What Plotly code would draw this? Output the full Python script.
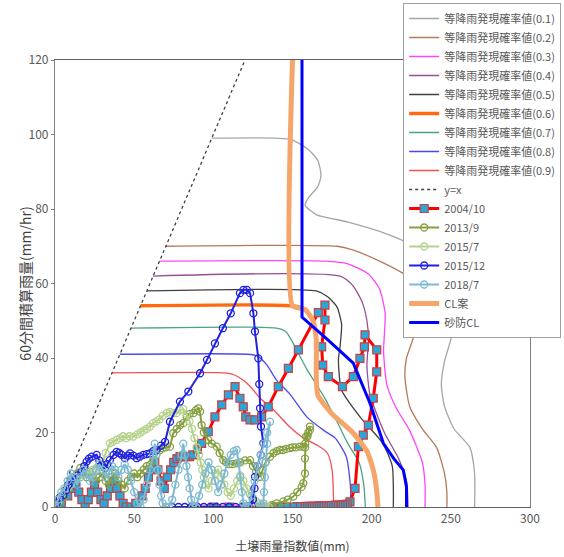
import plotly.graph_objects as go

# ---------------- data ----------------
# equal-probability contours (x: soil water index, y: 60-min rainfall)
c01_x = [99, 140, 150, 160, 166, 168, 166, 160, 158, 165, 185, 205, 222, 236, 248, 253, 250, 246, 244, 246, 252, 262, 265, 265]
c01_y = [99, 99, 98.5, 96, 93, 89, 86, 83, 81, 78.5, 76.5, 74, 71, 66, 58, 51, 45, 39, 33, 27, 21, 16, 9, 0]
c02_x = [70, 178, 188, 205, 222, 227, 228.5, 226, 222, 221, 224, 232, 241, 246, 247.5, 247.5]
c02_y = [70, 70, 69, 66, 62, 57, 51, 45, 40, 35, 27, 21, 16, 9, 4, 0]
c03_x = [66, 170, 185, 198, 205, 208.5, 208, 207.5, 209.5, 215, 224, 232, 233.7, 233.7]
c03_y = [66, 66, 65.3, 62.5, 58.5, 52, 46, 42, 33, 27, 20.5, 12, 6, 0]
c04_x = [62, 180, 188, 194, 197, 198, 197, 199, 208, 217, 222, 223]
c04_y = [62, 62, 59.5, 55, 50, 45, 38, 30, 20, 13, 7, 0]
c05_x = [58, 165, 172, 178, 181, 180, 179, 181, 192.6, 207, 213, 213.7, 213.7]
c05_y = [58, 58, 56.5, 53.8, 49, 43, 39.5, 31.4, 24.2, 17.1, 11, 5, 0]
c06_x = [54, 150, 158, 163, 165, 165, 166, 175, 188, 197, 201, 203, 204]
c06_y = [54, 54, 53, 50, 45, 35, 30, 25, 20, 15, 10, 5, 0]
c07_x = [48, 140, 146, 151, 159, 170, 178, 185, 192, 195, 196]
c07_y = [48, 48, 47, 43.5, 37, 29.5, 23, 17, 12, 6, 0]
c08_x = [41, 122, 128, 134, 140, 148, 159, 170, 177, 184, 186.5, 187]
c08_y = [41, 41, 40.5, 38, 34, 30.5, 24.2, 20.5, 18.5, 13.5, 6, 0]
c09_x = [36, 106, 113, 119, 124, 130, 136, 148, 157, 166, 172, 175, 176]
c09_y = [36, 36, 35.5, 34, 32, 29, 27, 21.6, 18.5, 16.5, 14.5, 10, 0]

yx_x = [0, 120]
yx_y = [0, 120]

# 2004/10 event
e2004_x = [0, 4, 8, 11, 13, 15, 17, 19, 21, 23, 25, 27, 29, 31, 33, 35, 37, 39, 41, 43, 45, 48, 51,
           55, 57, 59, 61, 63, 65, 67, 69, 71, 73, 75, 77, 79, 81, 83, 85, 87, 90, 92.6, 96.8, 101, 105.3,
           109.5, 113.7, 116.8, 118.9, 120.5, 123.2, 126.3, 130.5, 134.7, 141, 147.4, 153.7, 166.3, 170.5,
           170.5, 168.4, 169.1, 172.6, 181.5, 188.4, 192.6, 195.4, 195.8, 203.2, 203.2, 201, 197.9, 194.7,
           191.6, 189.5, 186.3, 184.5, 183, 181.5, 180, 178.5, 177, 175.5, 174, 172.5, 171, 169.5, 168, 166.5,
           165, 163.5, 162, 160.5, 159, 157.5, 156, 154.5, 153, 150, 146, 142, 138, 130, 120, 110, 100, 88]
e2004_y = [0, 1, 3, 5, 6, 4, 2, 0, 2, 4, 6, 4, 2, 1, 3, 5, 7, 5, 3, 1, 0, 0, 1,
           3, 5, 8, 10, 12, 10, 7, 5, 8, 10, 12, 13, 13.5, 13.5, 13.5, 13.5, 14, 15.5, 17.1, 20.2, 24.2, 27.4,
           30.1, 32.3, 29.2, 26.9, 24.2, 23.4, 23.4, 24.2, 26.9, 32.3, 37.2, 42.2, 52.2, 54.2,
           50.2, 43, 38.1, 35, 32.3, 35, 39.9, 43, 46.2, 42.2, 36.3, 29.2, 22, 19.3,
           16.2, 5, 1.4, 0.8, 0.6, 0.6, 0.5, 0.5, 0.5, 0.4, 0.4, 0.4, 0.3, 0.3, 0.3, 0.3,
           0.2, 0.2, 0.2, 0.2, 0.2, 0.1, 0.1, 0.1, 0.1, 0, 0, 0, 0, 0, 0, 0, 0, 0]

# 2013/9 event
e2013_x = [0, 2, 4, 6, 8, 10, 12, 14, 16, 18, 20, 22, 24, 26, 28, 30, 32, 34, 36, 38, 40, 42, 44, 46, 48,
           50, 52, 54, 56, 58, 60, 62, 64, 66.3, 68, 70, 72.6, 74.7, 77, 79, 81, 83.2, 85, 87.4, 89, 90.5,
           91.6, 92.6, 94, 96.8, 99, 102.1, 104, 106.3, 108, 110, 112, 114.7, 117, 120, 123.2, 125, 127,
           129.5, 131, 133, 135.8, 138, 140, 142.1, 144, 146, 148.4, 150, 152, 154.7, 156.8, 158, 159.5,
           161, 161, 160, 158.5, 158, 157.9, 157.9, 156.8, 155.8, 153, 150.5, 147, 144.2, 140, 137, 134]
e2013_y = [0, 1, 2, 3, 5, 7, 8, 9, 10.5, 9, 8, 9.5, 8, 7, 8, 9, 7, 6, 8, 9, 7, 6, 5, 7, 8,
           9, 8, 9, 10, 11, 11.3, 12.5, 14, 15.3, 15.8, 16, 16.2, 19.8, 21, 22, 22.5, 24.2, 25, 25.2, 26, 26.5,
           25.6, 22, 20, 18, 17, 16.2, 14.5, 12.6, 12, 11.5, 11.5, 11.7, 12, 12.5, 12.6, 11, 9.5,
           8.1, 10, 12, 13.5, 14.5, 15, 15.3, 15.3, 15.6, 15.8, 16, 16, 16.2, 16.2, 17, 19,
           20.7, 21.6, 20, 18.9, 16, 13, 9, 6.4, 5.4, 4, 2.8, 2, 1.5, 1, 0.5, 0]

# 2015/7 event
e2015a_x = [0, 2, 4, 6, 8, 10, 12, 14, 16, 18, 20, 22, 24, 26, 28.4, 30, 32, 34.7, 36.5, 38.9, 41, 43, 45,
            47, 49.5, 52, 54, 56, 58, 60, 62, 64, 66, 68, 70.5, 72.6, 74.7, 76.8, 78.9, 81, 83, 85, 86.5,
            88, 89.5, 91, 92, 93, 94, 95, 97, 99, 101, 103, 105, 107, 109, 111, 113, 115, 117, 119, 121,
            123, 125, 127, 129, 131, 133, 135]
e2015a_y = [0, 1.5, 3, 4.5, 5, 6, 7.5, 8, 9, 8.5, 10, 9, 10, 10.5, 10.8, 12, 14.5, 17.1, 17.5, 18, 18.5, 19, 18.5,
            19, 18.9, 19.5, 20, 20.5, 21, 21.6, 22.5, 23, 23.5, 24.5, 25.2, 25.5, 25.2, 25.2, 26, 26.3, 25, 23, 21,
            18.5, 16, 14, 12, 10, 8, 6, 5, 7, 9, 10, 8, 6, 4, 3, 5, 7, 8.5, 7, 5,
            3.5, 2.5, 1.5, 1, 0.5, 0.2, 0]

# 2015/12 event
e2015b_x = [0, 1, 3, 5.3, 7, 8.4, 10, 11.6, 14, 16.8, 18.5, 20, 21.5, 23.2, 26.3, 28, 29.5, 31.6, 33, 34.7,
            37, 38.9, 40.5, 42.1, 44.2, 46, 47.4, 49.5, 51.6, 53.5, 55.8, 58, 60, 62, 64.2, 67, 69.5, 72.6,
            78.9, 84.2, 91.6, 96, 101, 106, 111, 116.8, 119, 121.1, 123.2, 125.3, 126.3, 128.4, 129, 129.5,
            130.1, 131.6, 130, 128, 126.3, 126, 125, 124, 122, 118, 114, 110, 106, 102, 98, 94, 90, 86, 82, 78, 74]
e2015b_y = [0, 1, 2.5, 3.2, 4.5, 5.9, 7, 7.7, 8.5, 9.5, 11, 12.2, 13, 13.5, 14, 12.5, 11.3, 10.4, 11.5, 12.6,
            14, 14.8, 14.5, 14, 13.1, 13.8, 14.4, 13.8, 13.1, 13.5, 14, 14.2, 14.4, 15, 15.3, 16.5, 17.5, 22.9,
            28.3, 31, 35.9, 39.5, 43.9, 48, 52, 57.4, 58.3, 58.3, 57.4, 52, 47.1, 39.9, 33, 26.5,
            21.6, 17.1, 14, 11, 8.1, 5, 2, 0.5, 0, 0, 0, 0, 0, 0, 0, 0, 0, 0, 0, 0, 0]

# 2018/7 event
e2018_x = [0, 2, 4, 6, 8, 10, 12, 14, 16, 18, 20, 22, 24, 26, 28, 30, 32, 34, 36, 38, 40, 42, 44, 46, 48,
           50, 52, 54, 56, 58, 60, 62, 63, 64, 65, 66, 67, 68, 70, 72, 74, 76, 78, 80, 81, 82, 83, 84, 85,
           86, 87, 89, 91, 93, 95, 97, 99, 101, 103, 105, 107, 109, 111, 113, 114.7, 116, 117, 118, 119,
           120, 122, 124, 126, 128, 130, 132, 134, 135.8, 134, 133, 132.5, 132, 131.6, 130, 128]
e2018_y = [0, 2, 4, 5, 7, 9, 8, 6, 8, 10, 9, 7, 8, 10, 11.5, 10, 8, 9, 11, 10, 8, 10, 11.5, 10, 7,
           4, 1, 0, 2, 6, 10, 14, 17, 14, 10, 6, 3, 1, 0, 0, 2, 6, 10, 14, 17, 14, 11, 8, 5,
           2, 0, 0, 3, 6, 9, 12, 10, 7, 4, 6, 9, 12, 14, 15, 15.3, 12, 8, 4, 1,
           0, 0, 3, 7, 11, 14, 17, 20, 22.9, 17, 12, 8, 4, 1, 0, 0]

# critical lines
cl_x = [150, 150, 158, 163, 165, 165, 166, 175, 188, 197, 201, 203, 204]
cl_y = [120, 54, 53, 50, 45, 35, 30, 25, 20, 15, 10, 5, 0]
sabo_x = [156, 156, 172, 188.4, 199, 207.4, 214, 220, 222, 222]
sabo_y = [120, 51, 45, 38.6, 27.8, 17.1, 13, 9.9, 5.4, 0]

x_ticks = [0, 50, 100, 150, 200, 250, 300]
y_ticks = [0, 20, 40, 60, 80, 100, 120]

# ---------------- figure ----------------
fig = go.Figure()

contours = [
    ("等降雨発現確率値(0.1)", c01_x, c01_y, "#a6a6a6", 1.3),
    ("等降雨発現確率値(0.2)", c02_x, c02_y, "#b47a5a", 1.3),
    ("等降雨発現確率値(0.3)", c03_x, c03_y, "#ff44ff", 1.3),
    ("等降雨発現確率値(0.4)", c04_x, c04_y, "#964f96", 1.3),
    ("等降雨発現確率値(0.5)", c05_x, c05_y, "#404040", 1.3),
    ("等降雨発現確率値(0.6)", c06_x, c06_y, "#ff6a10", 3.5),
    ("等降雨発現確率値(0.7)", c07_x, c07_y, "#4aa384", 1.3),
    ("等降雨発現確率値(0.8)", c08_x, c08_y, "#4a4af0", 1.3),
    ("等降雨発現確率値(0.9)", c09_x, c09_y, "#f05050", 1.3),
]
for name, xs, ys, col, w in contours:
    fig.add_trace(go.Scatter(x=xs, y=ys, mode="lines", name=name,
                             line=dict(color=col, width=w, shape="spline", smoothing=0.6)))

fig.add_trace(go.Scatter(x=yx_x, y=yx_y, mode="lines", name="y=x",
                         line=dict(color="#404040", width=1.3, dash="dot")))

fig.add_trace(go.Scatter(x=e2004_x, y=e2004_y, mode="lines+markers", name="2004/10",
                         line=dict(color="#ff0000", width=3),
                         marker=dict(symbol="square", size=8, color="#2aa6d8",
                                     line=dict(color="#c84040", width=1.2))))
circle_series = [
    ("2013/9", e2013_x, e2013_y, "#86a040"),
    ("2015/7", e2015a_x, e2015a_y, "#b5d28c"),
    ("2015/12", e2015b_x, e2015b_y, "#2020e0"),
    ("2018/7", e2018_x, e2018_y, "#7db9d0"),
]
for name, xs, ys, col in circle_series:
    fig.add_trace(go.Scatter(x=xs, y=ys, mode="lines+markers", name=name,
                             line=dict(color=col, width=2),
                             marker=dict(symbol="circle-open", size=7, color=col,
                                         line=dict(color=col, width=1.3))))

fig.add_trace(go.Scatter(x=cl_x, y=cl_y, mode="lines", name="CL案",
                         line=dict(color="#f5a56a", width=5, shape="spline", smoothing=0.5)))
fig.add_trace(go.Scatter(x=sabo_x, y=sabo_y, mode="lines", name="砂防CL",
                         line=dict(color="#0000ff", width=3)))

font_family = "Noto Sans CJK JP, Noto Sans, sans-serif"
fig.update_layout(
    width=564, height=557,
    margin=dict(l=55, r=34, t=60, b=50, autoexpand=False),
    paper_bgcolor="white", plot_bgcolor="white",
    font=dict(family=font_family, size=12, color="#595959"),
    showlegend=True,
    legend=dict(x=0.733, y=1.1275, xanchor="left", yanchor="top",
                bgcolor="white", bordercolor="#a0a0a0", borderwidth=1,
                font=dict(size=11, color="#595959"),
                tracegroupgap=0, itemwidth=30, maxheight=360),
    annotations=[dict(text="60分間積算雨量(mm/hr)", textangle=-90, showarrow=False,
                      xref="paper", yref="paper", x=-0.065, y=0.5,
                      xanchor="center", yanchor="middle",
                      font=dict(size=14, color="#404040"))],
)
fig.update_xaxes(range=[0, 300], tickvals=x_ticks, showgrid=False, zeroline=False,
                 showline=True, linecolor="#606060", linewidth=1.2, mirror=True,
                 ticks="", tickfont=dict(size=12, color="#595959"),
                 title=dict(text="土壌雨量指数値(mm)", font=dict(size=12, color="#404040"), standoff=18))
fig.update_yaxes(range=[0, 120], tickvals=y_ticks, showgrid=False, zeroline=False,
                 showline=True, linecolor="#808080", linewidth=1.2, mirror=True,
                 ticks="outside", ticklen=3, tickcolor="#808080",
                 tickfont=dict(size=12, color="#595959"))

fig.write_html("out.html", config={"displayModeBar": False},
               post_script="document.body.style.margin='0px';")
